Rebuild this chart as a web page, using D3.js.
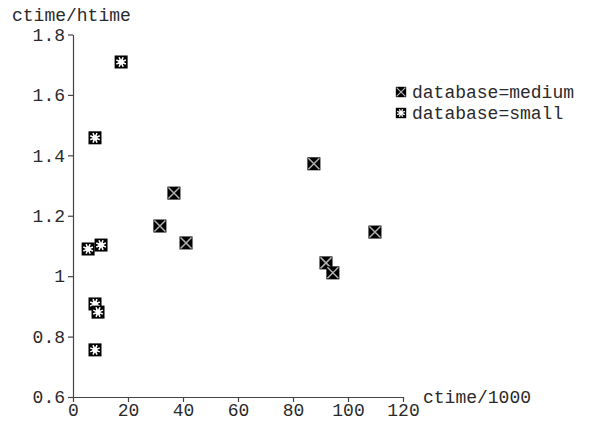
<!DOCTYPE html>
<html><head><meta charset="utf-8">
<script src="https://cdn.jsdelivr.net/npm/d3@7"></script>
<style>body{margin:0;background:#fff}svg text{font-family:"Liberation Mono","DejaVu Sans Mono",monospace;fill:#2a2a2a}</style>
</head><body><svg id="c" width="589" height="424"></svg>
<script>
const mediumX = [31.6, 36.7, 41.1, 87.6, 92.0, 94.5, 109.8];
const mediumY = [1.166, 1.275, 1.110, 1.372, 1.044, 1.011, 1.146];
const smallX = [17.5, 8.0, 5.5, 10.2, 8.0, 9.1, 8.0];
const smallY = [1.709, 1.458, 1.090, 1.103, 0.908, 0.881, 0.756];
const xTicks = [0, 20, 40, 60, 80, 100, 120];
const yTicks = [0.6, 0.8, 1, 1.2, 1.4, 1.6, 1.8];
const seriesNames = ["database=medium", "database=small"];

const svg = d3.select("#c");
const x = d3.scaleLinear().domain([0, 120]).range([73, 403]);
const y = d3.scaleLinear().domain([0.6, 1.8]).range([397, 34.5]);
const fs = "18px";

const xAxis = svg.append("g").attr("transform", "translate(0,397)")
  .call(d3.axisBottom(x).tickValues(xTicks).tickSize(5).tickSizeOuter(0).tickPadding(2).tickFormat(d3.format("d")));
const yAxis = svg.append("g").attr("transform", "translate(73,0)")
  .call(d3.axisLeft(y).tickValues(yTicks).tickSize(5).tickSizeOuter(0).tickPadding(3).tickFormat(d => String(d)));
[xAxis, yAxis].forEach(g => {
  g.selectAll("path,line").attr("stroke", "#444").attr("stroke-width", 1.2);
  g.selectAll("text").style("font-size", fs).attr("fill", "#2a2a2a");
});
xAxis.selectAll("text").attr("dy", "0.68em");

svg.append("text").attr("x", 12).attr("y", 21).style("font-size", fs).text("ctime/htime");
svg.append("text").attr("x", 423).attr("y", 403).style("font-size", fs).text("ctime/1000");

const S = 13;
function medium(g) {
  g.append("rect").attr("x", -S/2).attr("y", -S/2).attr("width", S).attr("height", S).attr("fill", "#000");
  g.append("path").attr("d", `M${-S/2+1},${-S/2+1}L${S/2-1},${S/2-1}M${S/2-1},${-S/2+1}L${-S/2+1},${S/2-1}`)
    .attr("stroke", "#b0b0b0").attr("stroke-width", 1.5);
}
function small(g) {
  g.append("rect").attr("x", -S/2).attr("y", -S/2).attr("width", S).attr("height", S).attr("fill", "#000");
  const sp = [];
  for (let i = 0; i < 8; i++) {
    const a = i * Math.PI / 4 + Math.PI / 8;
    const r = 5.2;
    sp.push(`M0,0L${(r*Math.cos(a)).toFixed(2)},${(r*Math.sin(a)).toFixed(2)}`);
  }
  g.append("path").attr("d", sp.join("")).attr("stroke", "#fff").attr("stroke-width", 1.6);
  g.append("circle").attr("r", 2.6).attr("fill", "#fff");
}

const med = mediumX.map((v, i) => ({x: v, y: mediumY[i]}));
const sml = smallX.map((v, i) => ({x: v, y: smallY[i]}));
svg.append("g").selectAll("g").data(med).join("g")
  .attr("transform", d => `translate(${x(d.x)},${y(d.y)})`).each(function(){ medium(d3.select(this)); });
svg.append("g").selectAll("g").data(sml).join("g")
  .attr("transform", d => `translate(${x(d.x)},${y(d.y)})`).each(function(){ small(d3.select(this)); });

const leg = svg.append("g");
seriesNames.forEach((n, i) => {
  const g = leg.append("g").attr("transform", `translate(0,${92 + i*21})`);
  const m = g.append("g").attr("transform", "translate(401,0) scale(0.8)");
  (i === 0 ? medium : small)(m);
  g.append("text").attr("x", 412).attr("y", 6).style("font-size", fs).text(n);
});
</script></body></html>
